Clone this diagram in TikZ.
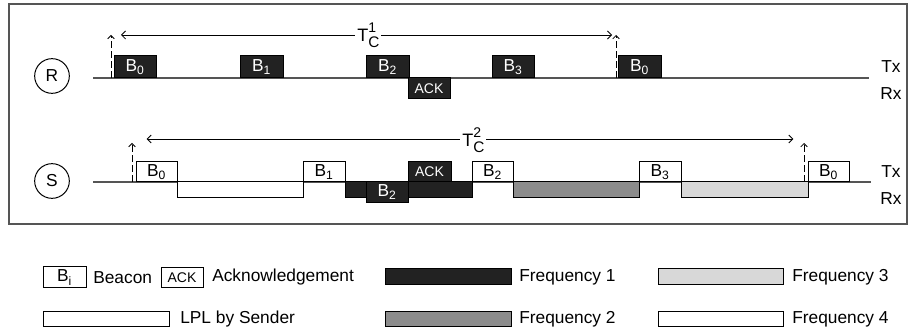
\documentclass[tikz,border=0pt]{standalone}
\usepackage{fontspec}
\setmainfont{Liberation Sans}
\usepackage{tikz}
\usetikzlibrary{arrows.meta}

\definecolor{freqone}{RGB}{34,34,34}
\definecolor{freqtwo}{RGB}{140,140,140}
\definecolor{freqthree}{RGB}{216,216,216}
\definecolor{linegray}{RGB}{85,85,85}

\tikzset{
  slot/.style={draw=black,line width=0.75},
  fone/.style={slot,fill=freqone},
  ftwo/.style={slot,fill=freqtwo},
  fthree/.style={slot,fill=freqthree},
  ffour/.style={slot,fill=white},
  wtext/.style={text=white,inner sep=0.75pt,font=\fontsize{13}{15}\selectfont},
  btext/.style={text=black,inner sep=0.75pt,font=\fontsize{13}{15}\selectfont},
  acktext/.style={inner sep=0.75pt,font=\fontsize{10.5}{12}\selectfont},
  period/.style={line width=0.6,{Straight Barb[length=3pt,width=6pt]}-{Straight Barb[length=3pt,width=6pt]}},
  startmark/.style={line width=0.6,dash pattern=on 5pt off 2.5pt,-{Straight Barb[length=2.5pt,width=5pt]}},
}

\begin{document}
\begin{tikzpicture}[x=0.75pt,y=0.75pt,yscale=-1,xscale=1]
\useasboundingbox (0,0) rectangle (910,334);

%Shape: Frame
\draw [linegray,line width=0.9] (9,4) rectangle (907,224) ;

%%% Receiver
% Text Node
\draw (52,76) node (rnode) [circle,draw,line width=0.75,minimum size=26,inner sep=0pt] [font=\fontsize{13}{15}\selectfont] {R};
%Straight Lines
\draw [linegray,line width=0.9] (93,78) -- (869,78) ;
%Shape: Rectangle
\draw [fone] (114,56) rectangle (156,78) ;
\draw [fone] (240,56) rectangle (283,78) ;
\draw [fone] (366,56) rectangle (409,78) ;
\draw [fone] (408,78) rectangle (450,99) ;
\draw [fone] (492,56) rectangle (534,78) ;
\draw [fone] (618,56) rectangle (661,78) ;
% Text Node
\draw (135,67) node (rbzero) [wtext] {B\textsubscript{0}};
\draw (261.5,67) node (rbone) [wtext] {B\textsubscript{1}};
\draw (387.5,67) node (rbtwo) [wtext] {B\textsubscript{2}};
\draw (429,88.5) node (rack) [wtext,acktext] {ACK};
\draw (513,67) node (rbthree) [wtext] {B\textsubscript{3}};
\draw (639.5,67) node (rbzerob) [wtext] {B\textsubscript{0}};
% Connection
\coordinate (rstart) at (111,35);
\coordinate (rend) at (616,35);
\draw [startmark] (111,78) -- (rstart) ;
\draw [startmark] (616,78) -- (rend) ;
\draw [period] ([xshift=7.5]rstart) -- ([xshift=-3]rend) ;
% Text Node
\draw (355,42) node (tcone) [anchor=base west,fill=white,inner sep=1.5pt] [font=\fontsize{13.5}{15}\selectfont] {T\rlap{\raisebox{6.75pt}{\fontsize{10.5}{12}\selectfont 1}}\raisebox{-4.5pt}{\fontsize{11.5}{12}\selectfont C}};
\draw (891,67) node (rtx) [btext] {Tx};
\draw (891,94) node (rrx) [btext] {Rx};

%%% Sender
% Text Node
\draw (52,181) node (snode) [circle,draw,line width=0.75,minimum size=26,inner sep=0pt] [font=\fontsize{13}{15}\selectfont] {S};
%Straight Lines
\draw [linegray,line width=0.9] (93,182) -- (871,182) ;
%Shape: Rectangle
\draw [ffour] (136,162) rectangle (177,182) ;
\draw [ffour] (177,182) rectangle (303,198) ;
\draw [ffour] (303,162) rectangle (345,182) ;
\draw [fone] (345,182) rectangle (472,198) ;
\draw [fone] (366,182) rectangle (408,203) ;
\draw [fone] (408,162) rectangle (451,182) ;
\draw [ffour] (472,162) rectangle (513,182) ;
\draw [ftwo] (513,182) rectangle (639,198) ;
\draw [ffour] (639,162) rectangle (681,182) ;
\draw [fthree] (681,182) rectangle (808,198) ;
\draw [ffour] (808,162) rectangle (849,182) ;
% Text Node
\draw (156.5,172) node (sbzero) [btext] {B\textsubscript{0}};
\draw (324,172) node (sbone) [btext] {B\textsubscript{1}};
\draw (387,192.5) node (sbtwo) [wtext] {B\textsubscript{2}};
\draw (429.5,172) node (sack) [wtext,acktext] {ACK};
\draw (492.5,172) node (sbtwob) [btext] {B\textsubscript{2}};
\draw (660,172) node (sbthree) [btext] {B\textsubscript{3}};
\draw (828.5,172) node (sbzerob) [btext] {B\textsubscript{0}};
% Connection
\coordinate (sstart) at (132,143);
\coordinate (send) at (804,143);
\draw [startmark] (132,182) -- (sstart) ;
\draw [startmark] (804,182) -- (send) ;
\draw [period] ([xshift=11,yshift=-3]sstart) -- ([xshift=-8,yshift=-3]send) ;
% Text Node
\draw (460,147) node (tctwo) [anchor=base west,fill=white,inner sep=1.5pt] [font=\fontsize{13.5}{15}\selectfont] {T\rlap{\raisebox{6.75pt}{\fontsize{10.5}{12}\selectfont 2}}\raisebox{-4.5pt}{\fontsize{11.5}{12}\selectfont C}};
\draw (891,172) node (stx) [btext] {Tx};
\draw (891,199) node (srx) [btext] {Rx};

%%% Legend
%Shape: Rectangle
\draw [ffour] (43,267) rectangle (86,288) ;
\draw [ffour] (161,268) rectangle (203,288) ;
\draw [fone] (385,269) rectangle (511,285) ;
\draw [fthree] (658,269) rectangle (783,285) ;
\draw [ffour] (43,312) rectangle (169,327) ;
\draw [ftwo] (385,312) rectangle (511,327) ;
\draw [ffour] (658,312) rectangle (783,327) ;
% Text Node
\draw (64.5,277.5) node (lbi) [btext] {B\textsubscript{i}};
\draw (92,277.5) node (lbeacon) [anchor=west] [btext] {Beacon};
\draw (182,278) node (lack) [acktext] {ACK};
\draw (211,277.5) node (lackn) [anchor=west] [btext] {Acknowledgement};
\draw (518,277) node (lfone) [anchor=west] [btext] {Frequency 1};
\draw (791,277) node (lfthree) [anchor=west] [btext] {Frequency 3};
\draw (179,319.5) node (llpl) [anchor=west] [btext] {LPL by Sender};
\draw (518,319.5) node (lftwo) [anchor=west] [btext] {Frequency 2};
\draw (791,319.5) node (lffour) [anchor=west] [btext] {Frequency 4};

\end{tikzpicture}
\end{document}
